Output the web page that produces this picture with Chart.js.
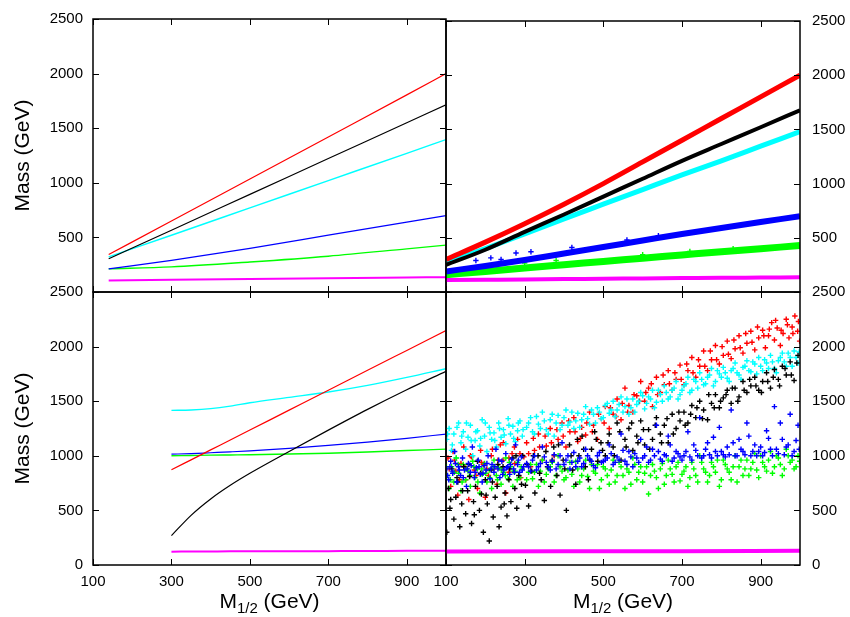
<!DOCTYPE html>
<html lang="en">
  <head>
    <meta charset="UTF-8" />
    <title>Mass spectrum vs M1/2</title>
    <script src="https://cdn.jsdelivr.net/npm/chart.js"></script>
    <style>
      body {
        margin: 0;
        background: #fff;
      }
      .wrap {
        position: relative;
        width: 850px;
        height: 617px;
      }
      .wrap canvas {
        position: absolute;
        left: 0;
        top: 0;
      }
    </style>
  </head>
  <body>
    <div class="wrap">
      <canvas id="tl" width="850" height="617"></canvas>
      <canvas id="tr" width="850" height="617"></canvas>
      <canvas id="bl" width="850" height="617"></canvas>
      <canvas id="br" width="850" height="617"></canvas>
    </div>

    <script>
      // tick labels
      const xTickVals = [100, 300, 500, 700, 900];
      const yTickVals = [0, 500, 1000, 1500, 2000, 2500];

      // top-left: analytic curves
      const tlX = [140, 300, 500, 700, 900, 1000];
      const tlRed = [343, 650, 1035, 1420, 1805, 2000];
      const tlBlack = [304, 566, 894, 1222, 1550, 1714];
      const tlCyan = [322, 520, 770, 1020, 1270, 1396];
      const tlBlue = [212, 290, 400, 520, 640, 700];
      const tlGreen = [212, 230, 275, 328, 395, 429];
      const tlMagenta = [105, 112, 120, 127, 133, 136];

      // top-right: dense scan bands (band centres)
      const trX = [100, 200, 300, 400, 500, 600, 700, 800, 900, 1000];
      const trRed = [300, 460, 630, 810, 1000, 1200, 1400, 1600, 1800, 2000];
      const trBlack = [250, 390, 555, 715, 880, 1045, 1210, 1365, 1520, 1677];
      const trCyan = [272, 400, 535, 675, 810, 945, 1080, 1210, 1345, 1480];
      const trBlue = [190, 240, 295, 355, 415, 475, 535, 590, 645, 700];
      const trGreen = [160, 190, 222, 252, 282, 312, 342, 372, 400, 428];
      const trMagenta = [110, 113, 116, 119, 122, 125, 128, 131, 133, 135];
      const trBlueOut = [[176, 290], [214, 315], [240, 300], [278, 360], [316, 372], [420, 410], [560, 480], [640, 520]];
      const trGreenOut = [[230, 250], [300, 268], [380, 290], [600, 345], [720, 375], [830, 400]];

      // bottom-left: analytic curves
      const blX = [300, 350, 400, 450, 500, 600, 700, 800, 900, 1000];
      const blRed = [872, 963, 1054, 1145, 1236, 1418, 1600, 1783, 1965, 2147];
      const blCyan = [1416, 1420, 1432, 1455, 1486, 1535, 1584, 1645, 1718, 1798];
      const blBlue = [1015, 1020, 1028, 1036, 1045, 1068, 1095, 1125, 1160, 1199];
      const blGreen = [1000, 1003, 1006, 1008, 1010, 1016, 1024, 1035, 1048, 1061];
      const blBlack = [269, 455, 605, 730, 840, 1040, 1235, 1425, 1605, 1774];
      const blMagenta = [122, 123, 124, 125, 125, 126, 127, 128, 130, 131];

      // bottom-right: scattered scan points [M1/2, mass]
      const brRed = [
        [105, 980], [112, 720], [118, 1040], [125, 860], [130, 640], [138, 930], [145, 1080], [150, 780], [158, 600], [165, 990],
        [172, 870], [180, 700], [188, 1050], [195, 920], [200, 620], [208, 820], [215, 1000], [222, 880], [230, 740], [238, 1100],
        [245, 960], [252, 660], [260, 850], [268, 1020], [275, 930], [282, 1150], [290, 800], [298, 990],
        [305, 1120], [315, 900], [325, 1050], [335, 1200], [345, 960], [355, 1090], [365, 1250], [375, 1000], [385, 1150], [395, 1300],
        [405, 1080], [415, 1220], [425, 1350], [435, 1130], [445, 1260], [455, 1190], [465, 1400], [475, 1280], [485, 1150], [495, 1340],
        [505, 1450], [515, 1250], [525, 1380], [535, 1520], [545, 1330], [555, 1620], [565, 1460], [575, 1400], [585, 1550], [595, 1680],
        [605, 1500], [615, 1620], [625, 1450], [635, 1720], [645, 1580], [655, 1650], [665, 1780], [675, 1600], [685, 1700], [695, 1830],
        [705, 1650], [715, 1780], [725, 1900], [735, 1720], [745, 1820], [755, 1960], [765, 1780], [775, 1880], [785, 2010], [795, 1840],
        [805, 1920], [815, 2050], [825, 1890], [835, 1980], [845, 2100], [855, 1940], [865, 2030], [875, 2140], [885, 1970], [895, 2080],
        [905, 2150], [912, 1990], [920, 2100], [928, 2220], [935, 2060], [942, 2170], [950, 2010], [957, 2120], [965, 2250], [972, 2080],
        [980, 2180], [987, 2280], [994, 2140], [999, 2050]
      ];
      const brRedMore = [
        [108, 880], [122, 960], [134, 780], [148, 900], [162, 1000], [176, 820], [190, 940], [204, 880], [218, 1060], [232, 960],
        [246, 1120], [260, 980], [274, 1080], [288, 1020], [310, 1020], [322, 1160], [338, 1080], [352, 1180], [368, 1120], [382, 1240],
        [398, 1180], [412, 1320], [428, 1220], [442, 1160], [458, 1300], [472, 1220], [488, 1380], [502, 1300], [518, 1440], [532, 1360],
        [548, 1480], [562, 1400], [578, 1560], [592, 1500], [608, 1580], [622, 1660], [638, 1560], [652, 1740], [668, 1660], [682, 1760],
        [698, 1700], [712, 1840], [728, 1760], [742, 1880], [758, 1820], [772, 1960], [788, 1880], [802, 2000], [818, 1930], [832, 2060],
        [848, 1990], [862, 2120], [878, 2040], [892, 2180], [908, 2100], [922, 2160], [938, 2240], [952, 2150], [968, 2200], [982, 2120],
        [996, 2230]
      ];
      const brCyan = [
        [102, 1150], [108, 1250], [114, 1050], [120, 1200], [126, 980], [132, 1300], [138, 1120], [144, 1220], [150, 1060], [156, 1170],
        [162, 1280], [168, 1000], [174, 1140], [180, 1230], [186, 1090], [192, 1330], [198, 1180], [204, 1040], [210, 1260], [216, 1150],
        [222, 1210], [228, 1080], [234, 1300], [240, 1170], [246, 1240], [252, 1110], [258, 1340], [264, 1200], [270, 1270], [276, 1130],
        [282, 1230], [288, 1320], [294, 1180],
        [305, 1260], [315, 1350], [325, 1200], [335, 1290], [345, 1400], [355, 1240], [365, 1330], [375, 1180], [385, 1370], [395, 1280],
        [405, 1420], [415, 1310], [425, 1250], [435, 1390], [445, 1330], [455, 1450], [465, 1290], [475, 1380], [485, 1440], [495, 1340],
        [505, 1460], [515, 1390], [525, 1500], [535, 1420], [545, 1540], [555, 1450], [565, 1380], [575, 1520], [585, 1470], [595, 1580],
        [605, 1430], [615, 1540], [625, 1600], [635, 1490], [645, 1560], [655, 1640], [665, 1520], [675, 1600], [685, 1680], [695, 1560],
        [705, 1640], [715, 1720], [725, 1600], [735, 1680], [745, 1760], [755, 1650], [765, 1720], [775, 1800], [785, 1680], [795, 1750],
        [805, 1810], [815, 1710], [825, 1780], [835, 1850], [845, 1740], [855, 1810], [865, 1870], [875, 1770], [885, 1840], [895, 1900],
        [905, 1780], [915, 1850], [925, 1920], [935, 1800], [945, 1870], [955, 1940], [965, 1820], [975, 1900], [985, 1960], [995, 1850]
      ];
      const brCyanMore = [
        [104, 1200], [116, 1100], [128, 1260], [140, 1180], [152, 1300], [164, 1140], [176, 1220], [188, 1160], [200, 1300], [212, 1210],
        [224, 1140], [236, 1250], [248, 1190], [260, 1280], [272, 1160], [284, 1300], [296, 1240], [310, 1300], [320, 1220], [330, 1360],
        [340, 1250], [350, 1320], [360, 1200], [370, 1380], [380, 1300], [390, 1240], [400, 1350], [410, 1280], [420, 1400], [430, 1320],
        [440, 1260], [450, 1380], [460, 1340], [470, 1420], [480, 1300], [490, 1400], [500, 1350], [510, 1480], [520, 1420], [530, 1360],
        [540, 1470], [550, 1400], [560, 1520], [570, 1440], [580, 1400], [590, 1500], [600, 1550], [610, 1480], [620, 1520], [630, 1440],
        [640, 1600], [650, 1500], [660, 1580], [670, 1540], [680, 1620], [690, 1520], [700, 1600], [710, 1660], [720, 1580], [730, 1700],
        [740, 1620], [750, 1700], [760, 1660], [770, 1740], [780, 1640], [790, 1780], [800, 1720], [810, 1760], [820, 1680], [830, 1800],
        [840, 1760], [850, 1700], [860, 1820], [870, 1780], [880, 1860], [890, 1750], [900, 1820], [910, 1880], [920, 1800], [930, 1860],
        [940, 1760], [950, 1900], [960, 1860], [970, 1940], [980, 1820], [990, 1900], [998, 1950]
      ];
      const brBlack = [
        [102, 300], [106, 700], [110, 520], [115, 880], [120, 420], [125, 620], [130, 760], [135, 350], [140, 560], [145, 900],
        [150, 470], [155, 680], [160, 810], [165, 380], [170, 580], [175, 720], [180, 950], [185, 500], [190, 650], [195, 300],
        [200, 780], [205, 560], [210, 220], [215, 870], [220, 440], [225, 620], [230, 720], [235, 350], [240, 530], [245, 900],
        [250, 660], [255, 450], [260, 780], [265, 580], [270, 980], [275, 700], [280, 520], [285, 820], [290, 620], [295, 1000],
        [302, 730], [310, 540], [318, 860], [326, 660], [334, 1000], [342, 780], [350, 590], [358, 900], [366, 720], [374, 1080],
        [382, 820], [390, 640], [398, 960], [406, 500], [414, 1100], [422, 870], [430, 740], [438, 1000], [446, 1180], [454, 900],
        [462, 780], [470, 1060], [478, 1220], [486, 950], [494, 1120],
        [505, 1000], [515, 1200], [525, 1080], [535, 1300], [545, 960], [555, 1150], [565, 1250], [575, 1050], [585, 1180], [595, 1320],
        [605, 1100], [615, 1240], [625, 1150], [635, 1350], [645, 1200], [655, 1280], [665, 1120], [675, 1380], [685, 1250], [695, 1320],
        [705, 1400], [715, 1300], [725, 1460], [735, 1350], [745, 1500], [755, 1420], [765, 1330], [775, 1480], [785, 1560], [795, 1440],
        [805, 1530], [815, 1600], [825, 1480], [835, 1620], [845, 1540], [855, 1680], [865, 1580], [875, 1640], [885, 1720], [895, 1600],
        [905, 1680], [915, 1760], [925, 1620], [935, 1790], [945, 1700], [955, 1820], [965, 1740], [975, 1860], [985, 1690], [995, 1920]
      ];
      const brBlackMore = [
        [112, 600], [128, 800], [142, 680], [158, 920], [172, 460], [188, 840], [202, 640], [218, 760], [232, 920], [248, 560],
        [262, 880], [278, 1000], [292, 740], [306, 920], [322, 1000], [338, 840], [354, 1040], [370, 960], [386, 1100], [402, 880],
        [418, 1000], [434, 1150], [450, 1060], [466, 960], [482, 1150], [498, 1050], [512, 1120], [528, 1000], [542, 1220], [558, 1080],
        [572, 1300], [588, 1120], [602, 1240], [618, 1060], [632, 1280], [648, 1120], [662, 1340], [678, 1200], [692, 1400], [708, 1280],
        [722, 1380], [738, 1440], [752, 1340], [768, 1560], [782, 1440], [798, 1500], [812, 1560], [828, 1620], [842, 1500], [858, 1600],
        [872, 1700], [888, 1640], [902, 1580], [918, 1680], [932, 1720], [948, 1640], [962, 1800], [978, 1740], [992, 1850]
      ];
      const brBlue = [
        [102, 880], [107, 780], [112, 950], [117, 840], [122, 1040], [127, 760], [132, 900], [137, 820], [142, 980], [147, 870],
        [152, 720], [157, 930], [162, 850], [167, 1080], [172, 800], [177, 890], [182, 960], [187, 830], [192, 760], [197, 910],
        [202, 870], [207, 1000], [212, 790], [217, 920], [222, 850], [227, 1060], [232, 880], [237, 800], [242, 950], [247, 870],
        [252, 1020], [257, 900], [262, 830], [267, 970], [272, 880], [277, 1100], [282, 920], [287, 850], [292, 990], [297, 900],
        [305, 930], [315, 860], [325, 1000], [335, 900], [345, 1080], [355, 940], [365, 870], [375, 1010], [385, 920], [395, 1120],
        [405, 960], [415, 880], [425, 1030], [435, 950], [445, 900], [455, 1060], [465, 970], [475, 910], [485, 1000], [495, 940],
        [505, 960], [515, 1100], [525, 920], [535, 990], [545, 1200], [555, 950], [565, 1040], [575, 900], [585, 980], [595, 1150],
        [605, 1000], [615, 940], [625, 1060], [635, 1280], [645, 970], [655, 1010], [665, 1180], [675, 950], [685, 1040], [695, 990],
        [705, 1000], [715, 1220], [725, 960], [735, 1050], [745, 1350], [755, 1000], [765, 1120], [775, 980], [785, 1040], [795, 1260],
        [805, 1010], [815, 1080], [825, 1420], [835, 1000], [845, 1150], [855, 1040], [865, 1300], [875, 1000], [885, 1100], [895, 1040],
        [905, 1000], [915, 1230], [925, 1060], [935, 1450], [945, 1020], [955, 1150], [965, 1080], [975, 1380], [985, 1040], [995, 1280]
      ];
      const brBlueMore = [
        [104, 820], [110, 900], [116, 860], [124, 930], [134, 870], [144, 800], [154, 880], [164, 910], [174, 850], [184, 900],
        [194, 840], [204, 930], [214, 880], [224, 900], [234, 960], [244, 830], [254, 890], [264, 920], [274, 850], [284, 960],
        [294, 870], [310, 900], [320, 960], [330, 870], [340, 930], [350, 990], [360, 900], [370, 950], [380, 880], [390, 1000],
        [400, 920], [410, 1000], [420, 940], [430, 900], [440, 980], [450, 930], [460, 1000], [470, 950], [480, 890], [490, 1030],
        [500, 950], [510, 980], [520, 1020], [530, 940], [540, 960], [550, 1050], [560, 920], [570, 990], [580, 1020], [590, 940],
        [600, 980], [610, 1080], [620, 960], [630, 1000], [640, 1040], [650, 950], [660, 1000], [670, 1100], [680, 980], [690, 1020],
        [700, 960], [710, 1040], [720, 990], [730, 1100], [740, 1000], [750, 980], [760, 1060], [770, 1010], [780, 1170], [790, 1000],
        [800, 1040], [810, 990], [820, 1010], [830, 1120], [840, 1000], [850, 1060], [860, 1010], [870, 1180], [880, 1040], [890, 1000],
        [900, 1080], [910, 1030], [920, 1160], [930, 1000], [940, 1060], [950, 1300], [960, 1010], [970, 1100], [980, 1000], [990, 1140],
        [998, 1060]
      ];
      const brGreen = [
        [103, 820], [108, 700], [114, 900], [120, 760], [126, 980], [132, 840], [138, 680], [144, 920], [150, 780], [156, 860],
        [162, 720], [168, 950], [174, 800], [180, 880], [186, 660], [192, 830], [198, 930], [204, 760], [210, 870], [216, 700],
        [222, 960], [228, 820], [234, 890], [240, 740], [246, 850], [252, 980], [258, 790], [264, 900], [270, 720], [276, 860],
        [282, 940], [288, 800], [294, 880],
        [305, 780], [315, 920], [325, 850], [335, 720], [345, 960], [355, 830], [365, 900], [375, 760], [385, 1000], [395, 860],
        [405, 800], [415, 940], [425, 720], [435, 880], [445, 820], [455, 960], [465, 700], [475, 860], [485, 920], [495, 780],
        [505, 880], [515, 740], [525, 960], [535, 820], [545, 900], [555, 700], [565, 850], [575, 980], [585, 780], [595, 900],
        [605, 840], [615, 650], [625, 920], [635, 800], [645, 880], [655, 740], [665, 960], [675, 830], [685, 900], [695, 770],
        [705, 860], [715, 720], [725, 940], [735, 820], [745, 1000], [755, 880], [765, 760], [775, 940], [785, 850], [795, 720],
        [805, 960], [815, 880], [825, 780], [835, 1000], [845, 900], [855, 820], [865, 960], [875, 880], [885, 1020], [895, 800],
        [905, 940], [915, 860], [925, 1040], [935, 900], [945, 980], [955, 820], [965, 1060], [975, 940], [985, 880], [995, 1000]
      ];
      const brGreenMore = [
        [101, 900], [111, 780], [121, 850], [131, 920], [141, 760], [151, 880], [161, 820], [171, 900], [181, 760], [191, 880],
        [201, 840], [211, 800], [221, 900], [231, 780], [241, 870], [251, 820], [261, 940], [271, 860], [281, 780], [291, 900],
        [310, 850], [320, 790], [330, 920], [340, 860], [350, 760], [360, 880], [370, 940], [380, 820], [390, 900], [400, 780],
        [410, 870], [420, 830], [430, 950], [440, 760], [450, 880], [460, 810], [470, 920], [480, 840], [490, 700], [500, 900],
        [510, 820], [520, 870], [530, 760], [540, 940], [550, 820], [560, 880], [570, 740], [580, 920], [590, 850], [600, 760],
        [610, 900], [620, 820], [630, 860], [640, 700], [650, 930], [660, 820], [670, 880], [680, 760], [690, 940], [700, 830],
        [710, 900], [720, 800], [730, 880], [740, 760], [750, 940], [760, 850], [770, 820], [780, 900], [790, 960], [800, 780],
        [810, 920], [820, 850], [830, 900], [840, 760], [850, 960], [860, 880], [870, 820], [880, 940], [890, 870], [900, 1000],
        [910, 900], [920, 960], [930, 840], [940, 1000], [950, 920], [960, 880], [970, 1000], [980, 960], [990, 900], [999, 950]
      ];
      const brMagX = [100, 400, 700, 1000];
      const brMagenta = [123, 125, 127, 130];

      const FONT = "'Liberation Sans', Arial, sans-serif";

      function curve(xs, ys, color, width) {
        return {
          data: xs.map((x, i) => ({ x: x, y: ys[i] })),
          showLine: true,
          borderColor: color,
          borderWidth: width,
          borderCapStyle: "butt",
          pointRadius: 0,
          cubicInterpolationMode: "monotone",
          clip: 0,
        };
      }

      function crosses(pts, color) {
        return {
          data: pts.map((p) => ({ x: p[0], y: p[1] })),
          showLine: false,
          pointStyle: "cross",
          pointRadius: 2.7,
          borderColor: color,
          borderWidth: 1.4,
          clip: 0,
        };
      }

      // frame + inward tick marks on all four sides
      const frameTicks = {
        id: "frameTicks",
        afterDraw(chart) {
          const { ctx, chartArea: a } = chart;
          const x = chart.scales.x;
          const y = chart.scales.y;
          ctx.save();
          ctx.strokeStyle = "#000";
          ctx.lineWidth = 1;
          ctx.beginPath();
          x.ticks.forEach((t) => {
            const px = Math.round(x.getPixelForValue(t.value)) + 0.5;
            ctx.moveTo(px, a.bottom);
            ctx.lineTo(px, a.bottom - 6);
            ctx.moveTo(px, a.top);
            ctx.lineTo(px, a.top + 6);
          });
          y.ticks.forEach((t) => {
            const py = Math.round(y.getPixelForValue(t.value)) + 0.5;
            ctx.moveTo(a.left, py);
            ctx.lineTo(a.left + 6, py);
            ctx.moveTo(a.right, py);
            ctx.lineTo(a.right - 6, py);
          });
          ctx.stroke();
          ctx.lineWidth = 1.5;
          ctx.strokeRect(a.left, a.top, a.right - a.left, a.bottom - a.top);
          ctx.restore();
        },
      };

      // axis titles (x title needs a subscript)
      const titles = {
        id: "titles",
        afterDraw(chart, args, opts) {
          const { ctx, chartArea: a } = chart;
          ctx.save();
          ctx.fillStyle = "#000";
          if (opts.yTitle) {
            ctx.translate(23, (a.top + a.bottom) / 2);
            ctx.rotate(-Math.PI / 2);
            ctx.font = "21px " + FONT;
            ctx.textAlign = "center";
            ctx.textBaseline = "middle";
            ctx.fillText("Mass (GeV)", 0, 0);
            ctx.setTransform(1, 0, 0, 1, 0, 0);
          }
          if (opts.xTitle) {
            const big = "21px " + FONT;
            const small = "15px " + FONT;
            ctx.font = big;
            const wM = ctx.measureText("M").width;
            const wG = ctx.measureText(" (GeV)").width;
            ctx.font = small;
            const wS = ctx.measureText("1/2").width;
            let cx = (a.left + a.right) / 2 - (wM + wS + wG) / 2;
            const base = 608;
            ctx.textAlign = "left";
            ctx.textBaseline = "alphabetic";
            ctx.font = big;
            ctx.fillText("M", cx, base);
            cx += wM;
            ctx.font = small;
            ctx.fillText("1/2", cx, base + 5);
            cx += wS;
            ctx.font = big;
            ctx.fillText(" (GeV)", cx, base);
          }
          ctx.restore();
        },
      };

      function panel(id, datasets, o) {
        new Chart(document.getElementById(id), {
          type: "scatter",
          data: { datasets: datasets },
          options: {
            responsive: false,
            animation: false,
            events: [],
            layout: { padding: o.padding },
            plugins: {
              legend: { display: false },
              tooltip: { enabled: false },
              titles: { xTitle: o.showX, yTitle: o.side === "left" },
            },
            scales: {
              x: {
                type: "linear",
                min: 100,
                max: 1000,
                grid: { display: false, drawTicks: false },
                border: { display: false },
                afterBuildTicks: (s) => {
                  s.ticks = xTickVals.map((v) => ({ value: v }));
                },
                ticks: {
                  display: o.showX,
                  maxRotation: 0,
                  autoSkip: false,
                  padding: 8,
                  color: "#000",
                  font: { family: FONT, size: 15 },
                  callback: (v) => String(v),
                },
                afterFit: (s) => {
                  s.height = o.showX ? 52 : 0;
                  s.paddingLeft = 0;
                  s.paddingRight = 0;
                },
              },
              y: {
                type: "linear",
                position: o.side,
                min: 0,
                max: 2500,
                grid: { display: false, drawTicks: false },
                border: { display: false },
                afterBuildTicks: (s) => {
                  s.ticks = yTickVals.map((v) => ({ value: v }));
                },
                ticks: {
                  padding: o.side === "left" ? 10 : 12,
                  color: "#000",
                  font: { family: FONT, size: 15 },
                  callback: (v) => (o.hideZero && v === 0 ? "" : String(v)),
                },
                afterFit: (s) => {
                  s.width = o.side === "left" ? 93 : 50;
                },
              },
            },
          },
          plugins: [frameTicks, titles],
        });
      }

      panel(
        "tl",
        [
          curve(tlX, tlRed, "#ff0000", 1.2),
          curve(tlX, tlBlack, "#000000", 1.2),
          curve(tlX, tlCyan, "#00ffff", 1.4),
          curve(tlX, tlBlue, "#0000ff", 1.2),
          curve(tlX, tlGreen, "#00ff00", 1.4),
          curve(tlX, tlMagenta, "#ff00ff", 2),
        ],
        { padding: { top: 19, left: 0, right: 404, bottom: 325 }, side: "left", showX: false, hideZero: true }
      );

      panel(
        "tr",
        [
          curve(trX, trRed, "#ff0000", 5),
          curve(trX, trBlack, "#000000", 4),
          curve(trX, trCyan, "#00ffff", 5),
          crosses(trBlueOut, "#0000ff"),
          curve(trX, trBlue, "#0000ff", 6),
          crosses(trGreenOut, "#00ff00"),
          curve(trX, trGreen, "#00ff00", 7),
          curve(trX, trMagenta, "#ff00ff", 4),
        ],
        { padding: { top: 19, left: 446, right: 0, bottom: 325 }, side: "right", showX: false, hideZero: true }
      );

      panel(
        "bl",
        [
          curve(blX, blRed, "#ff0000", 1.2),
          curve(blX, blBlack, "#000000", 1.2),
          curve(blX, blCyan, "#00ffff", 1.4),
          curve(blX, blBlue, "#0000ff", 1.2),
          curve(blX, blGreen, "#00ff00", 1.4),
          curve(blX, blMagenta, "#ff00ff", 2),
        ],
        { padding: { top: 292, left: 0, right: 404, bottom: 0 }, side: "left", showX: true, hideZero: false }
      );

      panel(
        "br",
        [
          crosses(brBlue.concat(brBlueMore), "#0000ff"),
          crosses(brBlack.concat(brBlackMore), "#000000"),
          crosses(brGreen.concat(brGreenMore), "#00ff00"),
          crosses(brCyan.concat(brCyanMore), "#00ffff"),
          crosses(brRed.concat(brRedMore), "#ff0000"),
          curve(brMagX, brMagenta, "#ff00ff", 4),
        ],
        { padding: { top: 292, left: 446, right: 0, bottom: 0 }, side: "right", showX: true, hideZero: false }
      );
    </script>
  </body>
</html>
